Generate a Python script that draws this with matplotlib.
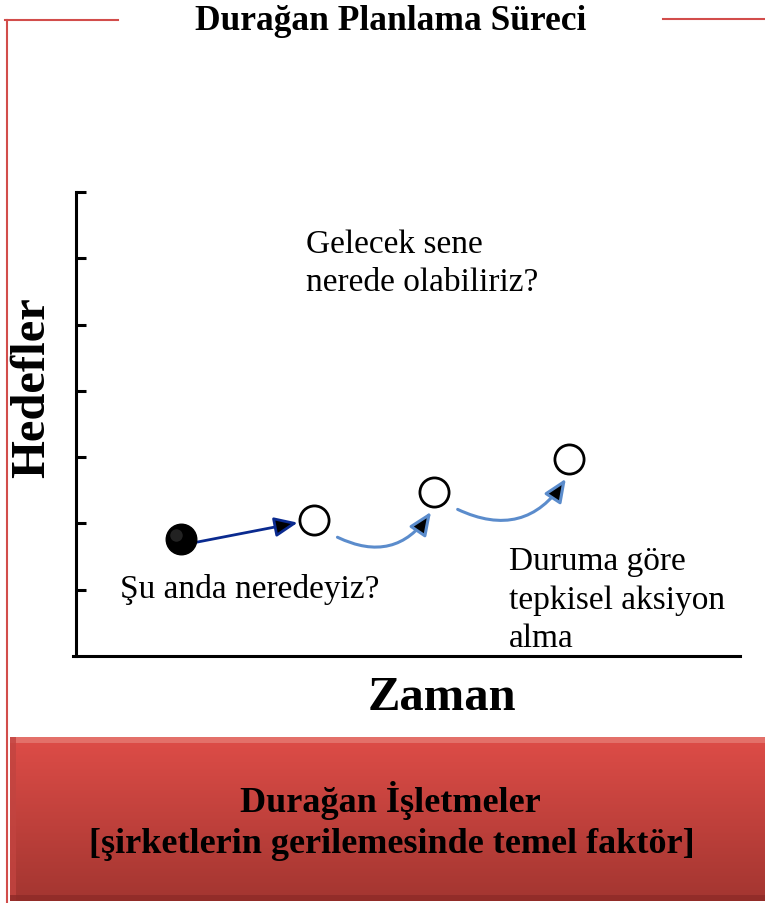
import numpy as np
import matplotlib
matplotlib.use("Agg")
import matplotlib.pyplot as plt
from matplotlib.patches import FancyArrowPatch, Rectangle

# ---- data ----
ball_x, ball_y = [1.58], [1.76]
circle_x = [3.58, 5.39, 7.42]
circle_y = [2.05, 2.47, 2.97]
y_ticks = [1, 2, 3, 4, 5, 6, 7]

title = "Durağan Planlama Süreci"
ylabel = "Hedefler"
xlabel = "Zaman"
txt_future = "Gelecek sene\nnerede olabiliriz?"
txt_now = "Şu anda neredeyiz?"
txt_react = "Duruma göre\ntepkisel aksiyon\nalma"
box_line1 = "Durağan İşletmeler"
box_line2 = "[şirketlerin gerilemesinde temel faktör]"

SERIF = ["Liberation Serif", "DejaVu Serif"]
RED = "#d24d4b"

W, H = 765, 904
fig = plt.figure(figsize=(W / 100, H / 100), dpi=100)

# background / decoration axes in pixel coordinates
bg = fig.add_axes([0, 0, 1, 1])
bg.axis("off")

# red frame lines
bg.plot([5, 118], [21, 21], color=RED, lw=1.5)
bg.plot([7, 7], [21, 904], color=RED, lw=1.5)
bg.plot([663, 765], [20, 20], color=RED, lw=1.5)

bg.text(391, 21, title, ha="center", va="center", fontsize=25.5,
        fontweight="bold", family=SERIF)

# bottom gradient box
grad = np.linspace(0, 1, 256).reshape(-1, 1)
c_top = np.array([0.87, 0.30, 0.28])
c_bot = np.array([0.64, 0.21, 0.19])
img = c_top[None, None, :] * (1 - grad[:, :, None]) + c_bot[None, None, :] * grad[:, :, None]
bg.imshow(img, extent=[10, 765, 902, 738], aspect="auto", zorder=1)
# bevel edges
bg.add_patch(Rectangle((10, 738), 755, 6, color="#e57a72", lw=0, zorder=2, alpha=0.8))
bg.add_patch(Rectangle((10, 738), 6, 164, color="#c24440", lw=0, zorder=2, alpha=0.8))
bg.add_patch(Rectangle((10, 896), 755, 6, color="#8e2a27", lw=0, zorder=2, alpha=0.8))
bg.set_xlim(0, W)
bg.set_ylim(H, 0)
bg.text(390, 801, box_line1, ha="center", va="center", fontsize=26,
        fontweight="bold", family=SERIF, zorder=3)
bg.text(392, 845, box_line2, ha="center", va="center", fontsize=26,
        fontweight="bold", family=SERIF, zorder=3)

bg.text(32, 388, ylabel, ha="center", va="center", rotation=90,
        fontsize=35, fontweight="bold", family=SERIF)
bg.text(442, 698, xlabel, ha="center", va="center", fontsize=35,
        fontweight="bold", family=SERIF)

# ---- main diagram axes ----
left, right, top, bottom = 76, 740, 193, 657
ax = fig.add_axes([left / W, 1 - bottom / H, (right - left) / W, (bottom - top) / H])
ax.set_xlim(0, 10)
ax.set_ylim(0, 7)
ax.patch.set_alpha(0)
for s in ["top", "right"]:
    ax.spines[s].set_visible(False)
ax.spines["left"].set_linewidth(2.2)
ax.spines["bottom"].set_linewidth(2.2)
ax.spines["bottom"].set_bounds(-0.05, 10)
ax.set_xticks([])
ax.set_yticks(y_ticks)
ax.set_yticklabels([])
ax.tick_params(axis="y", direction="in", length=7, width=2.2)

# arrows
a1 = FancyArrowPatch((ball_x[0] + 0.2, ball_y[0] - 0.05), (circle_x[0] - 0.2, circle_y[0] - 0.03),
                     arrowstyle="-|>,head_length=14,head_width=6",
                     facecolor="black", edgecolor="#0a2a8f",
                     lw=2, mutation_scale=1, zorder=3)
ax.add_patch(a1)
for i in range(2):
    p0 = (circle_x[i] + 0.32, circle_y[i] - 0.24)
    p1 = (circle_x[i + 1] - 0.02, circle_y[i + 1] - 0.26)
    a = FancyArrowPatch(p0, p1, connectionstyle="arc3,rad=0.45",
                        arrowstyle="-|>,head_length=14,head_width=6",
                        facecolor="black", edgecolor="#5b8ccc", lw=2.2,
                        mutation_scale=1, zorder=3)
    ax.add_patch(a)

ax.plot(ball_x, ball_y, "o", ms=22, color="black", zorder=4)
ax.plot([b - 0.07 for b in ball_x], [b + 0.07 for b in ball_y], "o", ms=9,
        color="#444444", alpha=0.5, zorder=5, mec="none")
ax.plot(circle_x, circle_y, "o", ms=21, mfc="white", mec="black", mew=2, zorder=4)

ax.text(3.46, 6.45, txt_future, ha="left", va="top", fontsize=24,
        family=SERIF, linespacing=1.3)
ax.text(0.66, 1.02, txt_now, ha="left", va="center", fontsize=24, family=SERIF)
ax.text(6.52, 1.66, txt_react, ha="left", va="top", fontsize=24,
        family=SERIF, linespacing=1.33)

fig.savefig("out.png", dpi=100)
